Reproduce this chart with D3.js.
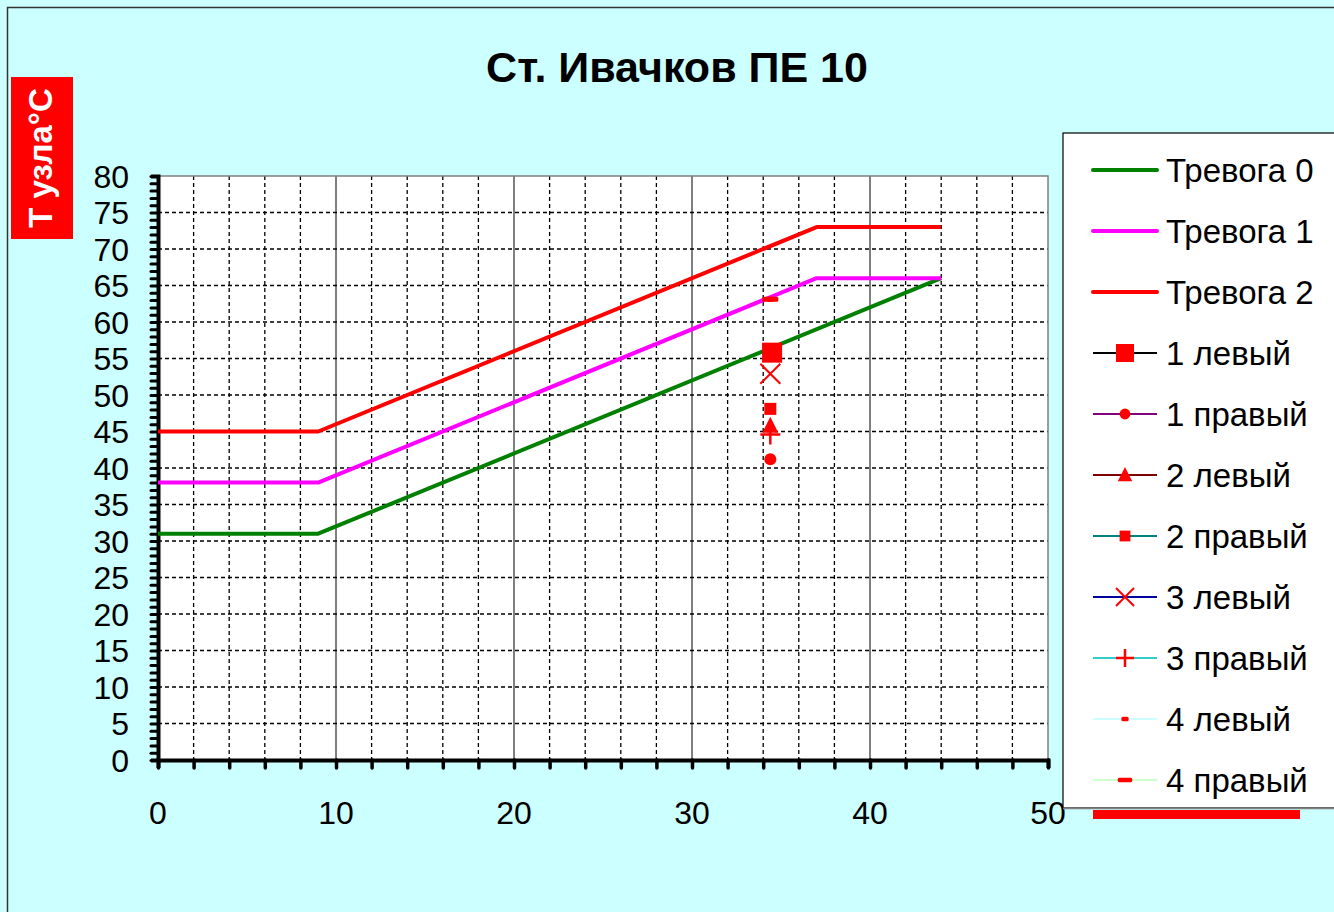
<!DOCTYPE html>
<html>
<head>
<meta charset="utf-8">
<script src="https://cdn.jsdelivr.net/npm/d3@7"></script>
<style>
  html, body { margin: 0; padding: 0; background: #ccffff; }
  svg { display: block; font-family: "Liberation Sans", Arial, sans-serif; }
</style>
</head>
<body>
<svg id="chart" width="1334" height="912"></svg>
<script>
// Alarm thresholds (T of the node vs. ambient)
const alarm0X = [0, 9, 44];
const alarm0T = [31, 31, 66];
const alarm1X = [0, 9, 37, 44];
const alarm1T = [38, 38, 66, 66];
const alarm2X = [0, 9, 37, 44];
const alarm2T = [45, 45, 73, 73];

// Measured sensor readings
const sensorNames = ["1 левый", "1 правый", "2 левый", "2 правый", "3 левый", "3 правый", "4 левый", "4 правый"];
const sensorX = [34.5, 34.4, 34.4, 34.4, 34.4, 34.4, 34.4, 34.4];
const sensorT = [55.8, 41.2, 45.8, 48.1, 52.9, 44.6, 63.1, 63.1];

const xTicks = [0, 10, 20, 30, 40, 50];
const yTicks = [0, 5, 10, 15, 20, 25, 30, 35, 40, 45, 50, 55, 60, 65, 70, 75, 80];

const alarmNames = ["Тревога 0", "Тревога 1", "Тревога 2"];
const alarmColors = ["#008000", "#ff00ff", "#ff0000"];
const sensorLineColors = ["#000000", "#800080", "#800000", "#008080", "#0000a0", "#33cccc", "#ccffff", "#ccffcc"];
const sensorShapes = ["bigSquare", "circle", "triangle", "smallSquare", "x", "plus", "dashSmall", "dash"];

const svg = d3.select("#chart");

// Outer chart frame
svg.append("rect").attr("x", 0).attr("y", 0).attr("width", 1334).attr("height", 912).attr("fill", "#ccffff");
svg.append("path").attr("d", "M7.5,912 V7.5 H1334").attr("fill", "none").attr("stroke", "#333").attr("stroke-width", 1.5);

const plot = { left: 158, right: 1048, top: 176, bottom: 760 };
const x = d3.scaleLinear().domain([0, 50]).range([plot.left, plot.right]);
const y = d3.scaleLinear().domain([0, 80]).range([plot.bottom, plot.top]);

// Plot background
svg.append("rect")
  .attr("x", plot.left).attr("y", plot.top)
  .attr("width", plot.right - plot.left).attr("height", plot.bottom - plot.top)
  .attr("fill", "#ffffff");

// Grid: dashed every 2 along x, solid every 10; dashed every 5 along y
const grid = svg.append("g");
d3.range(2, 50, 2).forEach(v => {
  const solid = v % 10 === 0;
  grid.append("line")
    .attr("x1", x(v)).attr("x2", x(v)).attr("y1", plot.top).attr("y2", plot.bottom)
    .attr("stroke", "#000").attr("stroke-width", solid ? 1 : 1.3)
    .attr("stroke-dasharray", solid ? null : "4,3");
});
d3.range(5, 80, 5).forEach(v => {
  grid.append("line")
    .attr("x1", plot.left).attr("x2", plot.right).attr("y1", y(v)).attr("y2", y(v))
    .attr("stroke", "#000").attr("stroke-width", 1.3)
    .attr("stroke-dasharray", "4,3");
});

// Top and right plot border
svg.append("path")
  .attr("d", `M${plot.left},${plot.top} H${plot.right} V${plot.bottom}`)
  .attr("fill", "none").attr("stroke", "#808080").attr("stroke-width", 1.5);

// Axes
const xAxis = d3.axisBottom(x).tickValues(d3.range(0, 51, 2)).tickSize(8).tickFormat("");
const gx = svg.append("g").attr("transform", `translate(0,${plot.bottom})`).call(xAxis);
gx.select(".domain").attr("stroke", "#000").attr("stroke-width", 4);
gx.selectAll(".tick line").attr("stroke", "#000").attr("stroke-width", 3.5).attr("stroke-linecap", "round");

const yAxis = d3.axisLeft(y).tickValues(d3.range(0, 81, 1)).tickSize(7).tickFormat("");
const gy = svg.append("g").attr("transform", `translate(${plot.left},0)`).call(yAxis);
gy.select(".domain").attr("stroke", "#000").attr("stroke-width", 4);
gy.selectAll(".tick line").attr("stroke", "#000").attr("stroke-width", 3).attr("stroke-linecap", "round");

// Tick labels
svg.append("g").selectAll("text").data(yTicks).join("text")
  .attr("x", 129).attr("y", d => y(d)).attr("dy", "0.36em")
  .attr("text-anchor", "end").attr("font-size", 32).attr("fill", "#000")
  .text(d => d);
svg.append("g").selectAll("text").data(xTicks).join("text")
  .attr("x", d => x(d)).attr("y", 824)
  .attr("text-anchor", "middle").attr("font-size", 32).attr("fill", "#000")
  .text(d => d);

// Alarm threshold lines
const line = d3.line().x(d => x(d[0])).y(d => y(d[1]));
[[alarm0X, alarm0T], [alarm1X, alarm1T], [alarm2X, alarm2T]].forEach(([xs, ts], i) => {
  svg.append("path")
    .datum(xs.map((v, k) => [v, ts[k]]))
    .attr("d", line)
    .attr("fill", "none").attr("stroke", alarmColors[i]).attr("stroke-width", 4)
    .attr("stroke-linejoin", "round");
});

// Marker drawing helper
function drawMarker(g, shape, cx, cy, scale) {
  const s = scale || 1;
  const red = "#ff0000";
  switch (shape) {
    case "bigSquare":
      g.append("rect").attr("x", cx - 10 * s).attr("y", cy - 10 * s).attr("width", 20 * s).attr("height", 20 * s).attr("fill", red);
      break;
    case "circle":
      g.append("circle").attr("cx", cx).attr("cy", cy).attr("r", 6 * s).attr("fill", red);
      break;
    case "triangle":
      g.append("path").attr("d", `M${cx},${cy - 9 * s} L${cx + 8 * s},${cy + 7 * s} L${cx - 8 * s},${cy + 7 * s} Z`).attr("fill", red);
      break;
    case "smallSquare":
      g.append("rect").attr("x", cx - 6 * s).attr("y", cy - 6 * s).attr("width", 12 * s).attr("height", 12 * s).attr("fill", red);
      break;
    case "x":
      g.append("path").attr("d", `M${cx - 10 * s},${cy - 10 * s} L${cx + 10 * s},${cy + 10 * s} M${cx + 10 * s},${cy - 10 * s} L${cx - 10 * s},${cy + 10 * s}`)
        .attr("stroke", red).attr("stroke-width", 2);
      break;
    case "plus":
      g.append("path").attr("d", `M${cx - 10 * s},${cy} H${cx + 10 * s} M${cx},${cy - 10 * s} V${cy + 10 * s}`)
        .attr("stroke", red).attr("stroke-width", 2.5);
      break;
    case "dashSmall":
      g.append("rect").attr("x", cx - 4 * s).attr("y", cy - 2.5 * s).attr("width", 8 * s).attr("height", 5 * s).attr("rx", 1.5).attr("fill", red);
      break;
    case "dash":
      g.append("rect").attr("x", cx - 8 * s).attr("y", cy - 2.5 * s).attr("width", 16 * s).attr("height", 5 * s).attr("rx", 1.5).attr("fill", red);
      break;
  }
}

// Sensor points, drawn in reverse so the first series sits on top
const pts = svg.append("g");
d3.range(sensorNames.length).reverse().forEach(i => {
  drawMarker(pts, sensorShapes[i], x(sensorX[i]), y(sensorT[i]), 1);
});

// Title
svg.append("text")
  .attr("x", 677).attr("y", 82)
  .attr("text-anchor", "middle").attr("font-size", 43).attr("font-weight", "bold").attr("fill", "#000")
  .text("Ст. Ивачков ПЕ 10");

// Y axis title badge
svg.append("rect").attr("x", 11).attr("y", 77).attr("width", 62).attr("height", 162).attr("fill", "#ff0000");
svg.append("text")
  .attr("transform", "translate(52,158) rotate(-90)")
  .attr("text-anchor", "middle").attr("font-size", 33).attr("font-weight", "bold").attr("fill", "#ffffff")
  .text("Т узла°С");

// Legend
const legend = svg.append("g");
legend.append("rect")
  .attr("x", 1063).attr("y", 133).attr("width", 300).attr("height", 675)
  .attr("fill", "#ffffff").attr("stroke", "#000").attr("stroke-width", 1.2);
legend.append("line").attr("x1", 1063).attr("x2", 1334).attr("y1", 808.5).attr("y2", 808.5)
  .attr("stroke", "#808080").attr("stroke-width", 1.5);

const legendItems = alarmNames.map((n, i) => ({ name: n, color: alarmColors[i], shape: null, width: 4 }))
  .concat(sensorNames.map((n, i) => ({ name: n, color: sensorLineColors[i], shape: sensorShapes[i], width: 2 })));
const rowY = d3.scaleLinear().domain([0, legendItems.length - 1]).range([170, 780]);
legendItems.forEach((d, i) => {
  const cy = rowY(i);
  legend.append("line").attr("x1", 1093).attr("x2", 1157).attr("y1", cy).attr("y2", cy)
    .attr("stroke", d.color).attr("stroke-width", d.width).attr("stroke-linecap", d.shape ? "butt" : "round");
  if (d.shape) drawMarker(legend, d.shape, 1125, cy, 0.9);
  legend.append("text").attr("x", 1166).attr("y", cy).attr("dy", "0.36em")
    .attr("font-size", 33).attr("fill", "#000").text(d.name);
});

// Red bar under the legend
svg.append("rect").attr("x", 1093).attr("y", 810).attr("width", 207).attr("height", 9).attr("fill", "#ff0000");
</script>
</body>
</html>
